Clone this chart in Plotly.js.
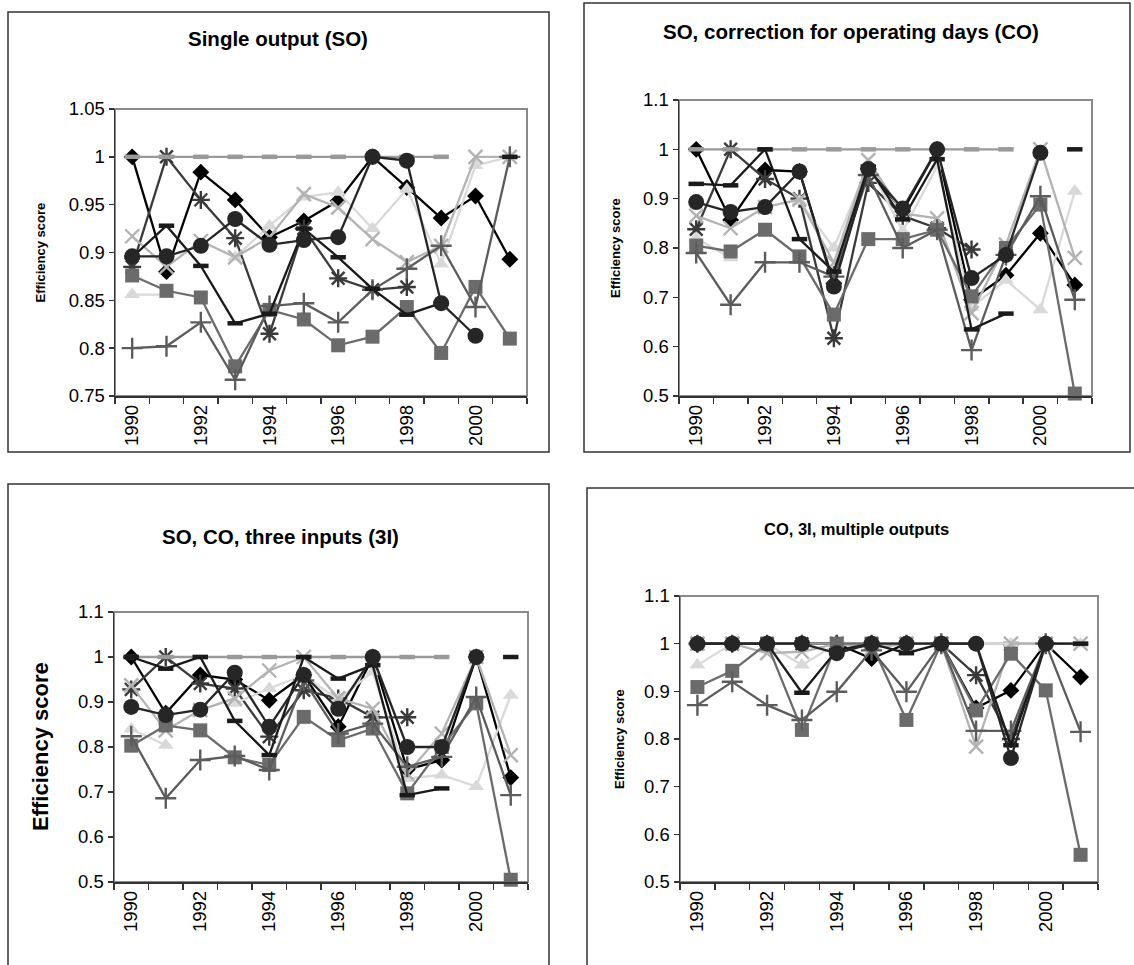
<!DOCTYPE html>
<html>
<head>
<meta charset="utf-8">
<script src="https://cdn.plot.ly/plotly-3.0.1.min.js"></script>
<style>html,body{margin:0;padding:0;background:#fff;}#chart{width:1134px;height:965px;}</style>
</head>
<body>
<div id="chart"></div>
<script>
// ---------- data ----------
const years = [1990,1991,1992,1993,1994,1995,1996,1997,1998,1999,2000,2001];
const xTickVals = [1990,1992,1994,1996,1998,2000];
const xTickText = ["1990","1992","1994","1996","1998","2000"];
const yTicksSO = [0.75,0.8,0.85,0.9,0.95,1,1.05];
const yTicksSOText = ["0.75","0.8","0.85","0.9","0.95","1","1.05"];
const yTicks = [0.5,0.6,0.7,0.8,0.9,1,1.1];
const yTicksText = ["0.5","0.6","0.7","0.8","0.9","1","1.1"];

const panelTitles = ["Single output (SO)","SO, correction for operating days (CO)","SO, CO, three inputs (3I)","CO, 3I, multiple outputs"];
const yTitle = "Efficiency score";

// Panel 1: Single output (SO)
const so_diamond  = [1.0,0.88,0.984,0.955,0.916,0.933,0.954,1.0,0.968,0.936,0.959,0.893];
const so_dashBlk  = [0.895,0.928,0.886,0.826,0.836,0.925,0.895,0.862,0.835,0.847,null,1.0];
const so_dashGray = [1,1,1,1,1,1,1,1,1,1,null,null];
const so_triangle = [0.856,0.856,null,0.895,0.928,0.958,0.963,0.925,0.966,0.888,0.991,1.0];
const so_x        = [0.917,0.885,0.912,0.895,0.916,0.961,0.947,0.914,0.89,0.907,1.0,1.0];
const so_star     = [0.885,1.0,0.955,0.915,0.815,0.925,0.873,0.861,0.864,null,null,null];
const so_circle   = [0.896,0.896,0.907,0.935,0.908,0.913,0.916,1.0,0.996,0.847,0.813,null];
const so_plus     = [0.80,0.802,0.827,0.767,0.844,0.847,0.827,0.861,0.883,0.907,0.843,1.0];
const so_square   = [0.876,0.86,0.853,0.781,0.84,0.83,0.803,0.812,0.843,0.795,0.864,0.81];

// Panel 2: SO, correction for operating days (CO)
const co_diamond  = [1.0,0.857,0.958,0.955,0.728,0.96,0.875,1.0,0.695,0.745,0.83,0.725];
const co_dashBlk  = [0.93,0.927,1.0,0.818,0.752,0.965,0.858,0.98,0.635,0.667,null,1.0];
const co_dashGray = [1,1,1,1,1,1,1,1,1,1,null,null];
const co_triangle = [0.82,0.78,null,0.895,0.80,0.97,0.834,0.966,0.68,0.735,0.675,0.915];
const co_x        = [0.865,0.84,0.883,0.898,0.77,0.978,0.87,0.86,0.668,0.807,1.0,0.78];
const co_star     = [0.838,1.0,0.94,0.90,0.617,0.932,0.865,0.84,0.797,null,null,null];
const co_circle   = [0.893,0.873,0.883,0.955,0.722,0.96,0.88,1.0,0.739,0.786,0.993,null];
const co_plus     = [0.79,0.685,0.771,0.771,0.742,0.948,0.80,0.837,0.593,0.786,0.905,0.695];
const co_square   = [0.805,0.793,0.837,0.783,0.665,0.818,0.818,0.837,0.702,0.80,0.888,0.505];

// Panel 3: SO, CO, three inputs (3I)
const ti_diamond  = [1.0,0.875,0.96,0.95,0.904,0.96,0.845,1.0,0.75,0.771,1.0,0.732];
const ti_dashBlk  = [1.0,0.974,1.0,0.858,0.782,1.0,0.952,0.982,0.693,0.708,null,1.0];
const ti_dashGray = [1,1,1,1,1,1,1,1,1,1,null,null];
const ti_triangle = [0.84,0.804,null,0.897,0.93,0.96,0.905,0.967,0.73,0.738,0.712,0.915];
const ti_x        = [0.937,0.837,0.882,0.908,0.97,1.0,0.908,0.885,0.741,0.83,1.0,0.782];
const ti_star     = [0.928,1.0,0.941,0.93,0.823,0.926,0.908,0.866,0.866,null,null,null];
const ti_circle   = [0.889,0.871,0.883,0.965,0.845,0.96,0.885,1.0,0.80,0.80,1.0,null];
const ti_plus     = [0.824,0.686,0.771,0.78,0.749,0.948,0.83,0.852,0.756,0.778,0.911,0.693];
const ti_square   = [0.803,0.848,0.837,0.777,0.76,0.867,0.815,0.841,0.697,0.80,0.897,0.505];

// Panel 4: CO, 3I, multiple outputs
const mo_diamond  = [1,1,1,1,1,0.969,1,1,0.865,0.902,1,0.93];
const mo_dashBlk  = [1,1,1,0.897,0.986,1,0.98,1,1,0.787,1,1];
const mo_dashGray = [1,1,1,1,1,1,1,1,1,1,1,1];
const mo_triangle = [0.955,1,1,0.955,1,1,1,1,1,1,1,1];
const mo_x        = [1,1,0.98,0.983,1,0.99,1,1,0.784,1,1,1];
const mo_star     = [1,1,1,1,1,1,1,1,0.934,0.80,1,null];
const mo_circle   = [1,1,1,1,0.98,1,1,1,1,0.76,1,null];
const mo_plus     = [0.871,0.92,0.871,0.84,0.899,0.986,0.899,1,0.817,0.817,1,0.815];
const mo_square   = [0.909,0.943,1,0.819,1,1,0.84,1,0.86,0.979,0.902,0.557];

// ---------- styles ----------
const W = 1134, H = 965;
const FONT = "Liberation Sans, Arial, Helvetica, sans-serif";
const styles = {
  diamond:  {color:"#000000", symbol:"diamond", size:13, open:false},
  star:     {color:"#3a3a3a", symbol:"asterisk-open", size:15, open:true, lw:2.4},
  dashGray: {color:"#9a9a9a", symbol:"line-ew-open", size:11, open:true, lw:4.5},
  triangle: {color:"#d9d9d9", symbol:"triangle-up", size:14, open:false},
  x:        {color:"#b3b3b3", symbol:"x-thin-open", size:14, open:true, lw:2.4},
  square:   {color:"#6b6b6b", symbol:"square", size:14, open:false},
  plus:     {color:"#5c5c5c", symbol:"cross-thin-open", size:15, open:true, lw:2.4},
  dashBlk:  {color:"#1a1a1a", symbol:"line-ew-open", size:11, open:true, lw:4.5},
  circle:   {color:"#262626", symbol:"circle", size:16, open:false}
};
const order = ["diamond","star","dashGray","triangle","x","square","plus","dashBlk","circle"];

const panels = [
  {ax:"", data:{diamond:so_diamond,star:so_star,dashGray:so_dashGray,triangle:so_triangle,x:so_x,square:so_square,plus:so_plus,dashBlk:so_dashBlk,circle:so_circle},
   plot:[115,527,109,396], range:[0.75,1.05], tv:yTicksSO, tt:yTicksSOText,
   box:[8,549,12,452], title:[278,38,20.5], ytitle:[40,13]},
  {ax:"2", data:{diamond:co_diamond,star:co_star,dashGray:co_dashGray,triangle:co_triangle,x:co_x,square:co_square,plus:co_plus,dashBlk:co_dashBlk,circle:co_circle},
   plot:[679,1092,100,396], range:[0.5,1.1], tv:yTicks, tt:yTicksText,
   box:[584,1130,3,452], title:[851,32,20.5], ytitle:[616,13]},
  {ax:"3", data:{diamond:ti_diamond,star:ti_star,dashGray:ti_dashGray,triangle:ti_triangle,x:ti_x,square:ti_square,plus:ti_plus,dashBlk:ti_dashBlk,circle:ti_circle},
   plot:[114,528,612,882], range:[0.5,1.1], tv:yTicks, tt:yTicksText,
   box:[8,549,484,975], title:[280,536,20.5], ytitle:[40,22]},
  {ax:"4", data:{diamond:mo_diamond,star:mo_star,dashGray:mo_dashGray,triangle:mo_triangle,x:mo_x,square:mo_square,plus:mo_plus,dashBlk:mo_dashBlk,circle:mo_circle},
   plot:[680,1098,596,882], range:[0.5,1.1], tv:yTicks, tt:yTicksText,
   box:[587,1145,488,975], title:[856,529,16.5], ytitle:[619,13]}
];

const px = v => v / W;
const py = v => 1 - v / H;
const boundaries = years.map(y => y - 0.5).concat([years[years.length-1] + 0.5]);

const traces = [];
const layout = {
  width: W, height: H, margin:{l:0,r:0,t:0,b:0},
  paper_bgcolor:"#ffffff", plot_bgcolor:"#ffffff",
  showlegend:false, font:{family:FONT, color:"#000"},
  shapes:[], annotations:[]
};

panels.forEach((p, i) => {
  const xa = "x" + p.ax, ya = "y" + p.ax;
  order.forEach(k => {
    const s = styles[k];
    const marker = {symbol:s.symbol, size:s.size, color:s.color};
    marker.line = s.open ? {color:s.color, width:s.lw} : {color:s.color, width:0};
    traces.push({
      x: years, y: p.data[k], xaxis:xa, yaxis:ya, type:"scatter", mode:"lines+markers",
      line:{color:s.color, width:2.3}, marker:marker, cliponaxis:false, hoverinfo:"skip"
    });
  });
  const [l, r, t, b] = p.plot;
  layout["xaxis" + p.ax] = {
    domain:[px(l), px(r)], range:[1989.5, 2001.5], anchor:ya,
    tickmode:"array", tickvals:xTickVals, ticktext:xTickText, tickangle:-90,
    ticks:"", showgrid:false, zeroline:false,
    showline:true, linecolor:"#333", linewidth:1.5,
    tickfont:{family:FONT, size:18.5, color:"#000"},
    minor:{tickmode:"array", tickvals:boundaries, ticks:"outside", ticklen:6, tickwidth:1.5, tickcolor:"#333", showgrid:false},
    fixedrange:true
  };
  layout["yaxis" + p.ax] = {
    domain:[py(b), py(t)], range:p.range, anchor:xa,
    tickmode:"array", tickvals:p.tv, ticktext:p.tt,
    ticks:"outside", ticklen:5, tickwidth:1.5, tickcolor:"#333",
    showgrid:false, zeroline:false, showline:true, linecolor:"#333", linewidth:1.5,
    tickfont:{family:FONT, size:18.5, color:"#000"}, fixedrange:true
  };
  layout.shapes.push({type:"rect", xref:"paper", yref:"paper", x0:px(l), x1:px(r), y0:py(b), y1:py(t),
    line:{color:"#8a8a8a", width:2}, layer:"below"});
  const [bl, br, bt, bb] = p.box;
  layout.shapes.push({type:"rect", xref:"paper", yref:"paper", x0:px(bl), x1:px(br), y0:py(bb), y1:py(bt),
    line:{color:"#333", width:1.5}, layer:"below"});
  layout.annotations.push({xref:"paper", yref:"paper", x:px(p.title[0]), y:py(p.title[1]),
    xanchor:"center", yanchor:"middle", showarrow:false,
    text:"<b>" + panelTitles[i] + "</b>", font:{family:FONT, size:p.title[2], color:"#000"}});
  layout.annotations.push({xref:"paper", yref:"paper", x:px(p.ytitle[0]), y:py((t + b) / 2),
    xanchor:"center", yanchor:"middle", showarrow:false, textangle:-90,
    text:"<b>" + yTitle + "</b>", font:{family:FONT, size:p.ytitle[1], color:"#000"}});
});

Plotly.newPlot("chart", traces, layout, {staticPlot:true, displayModeBar:false});
</script>
</body>
</html>
